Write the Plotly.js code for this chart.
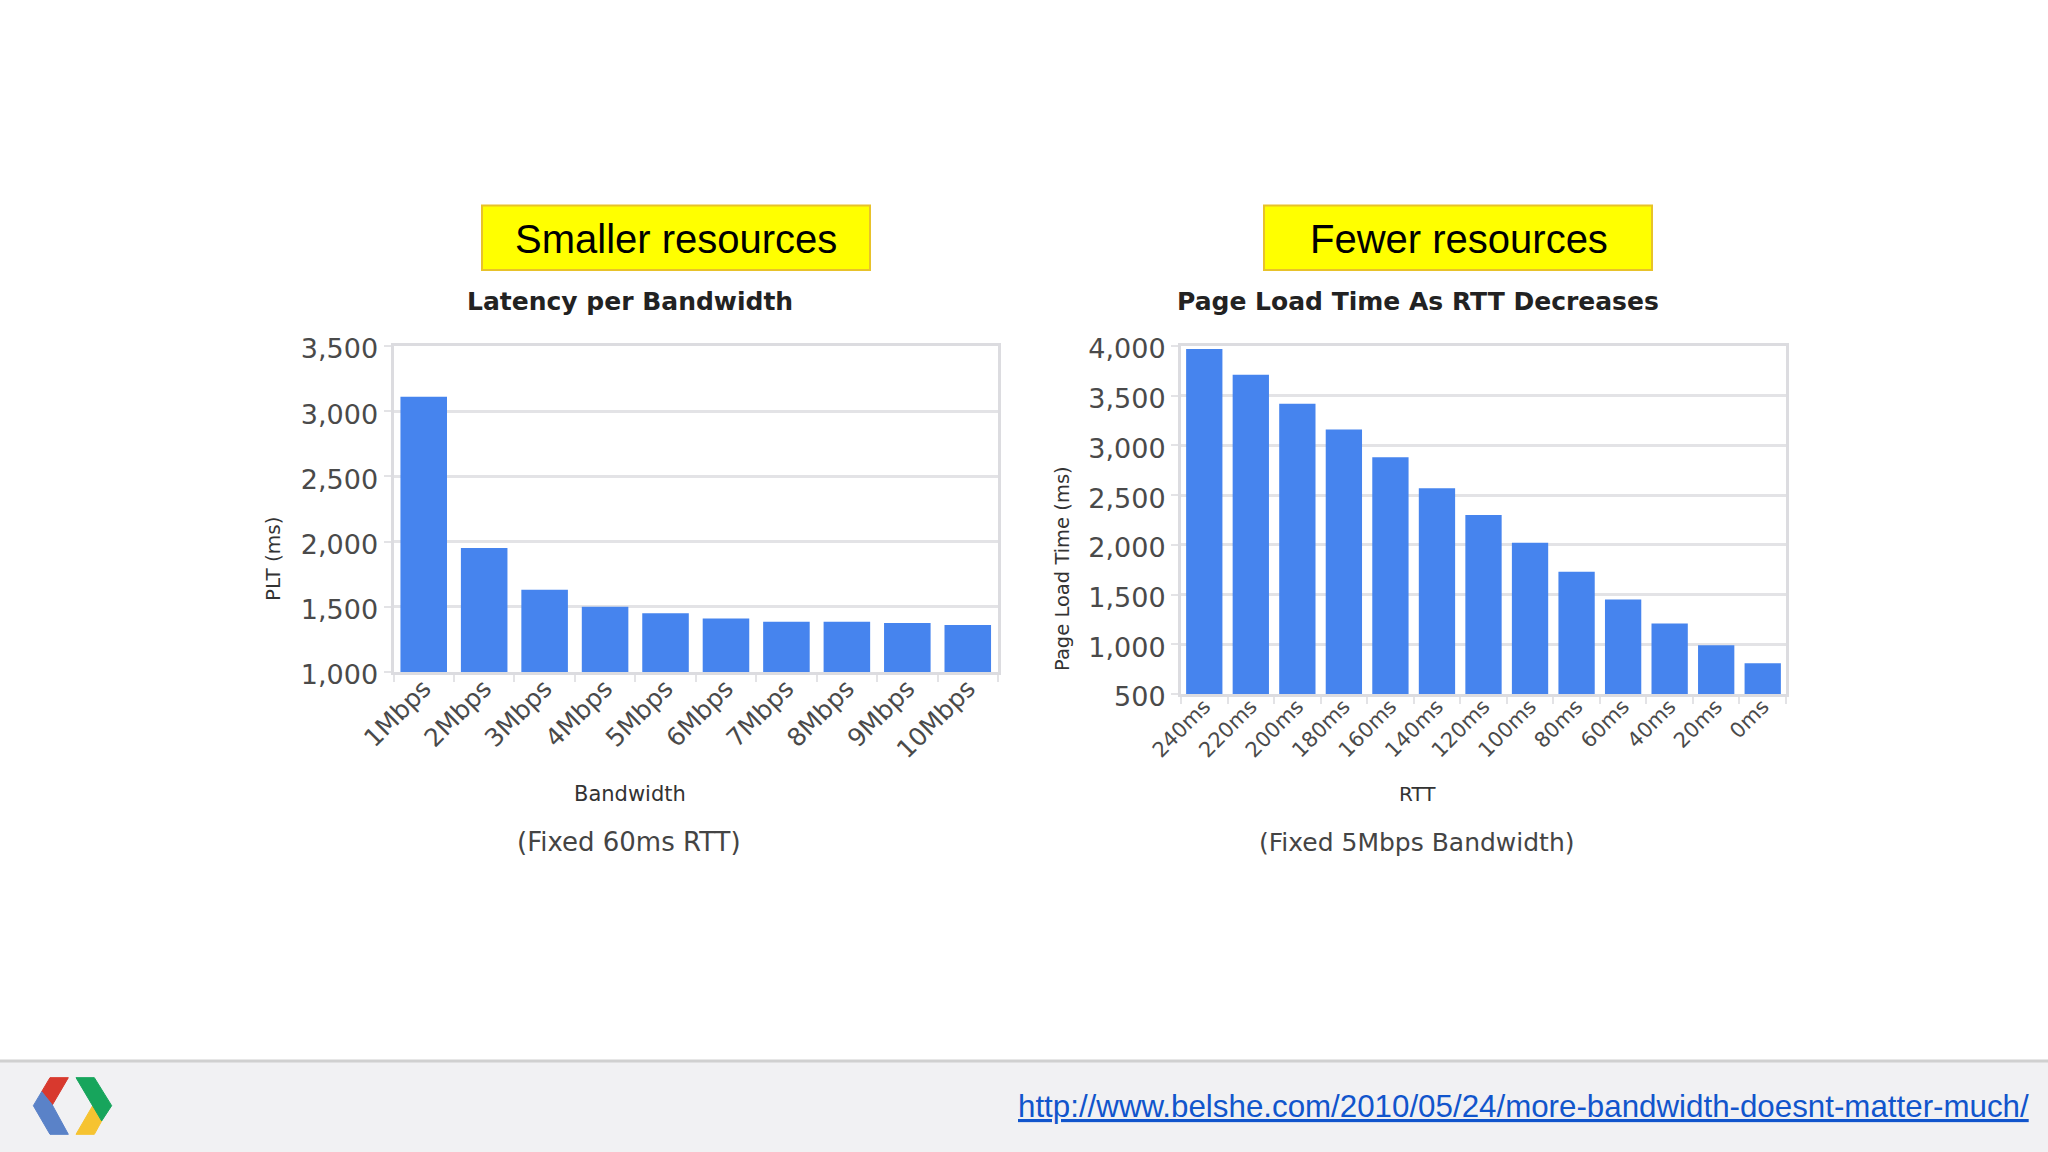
<!DOCTYPE html>
<html><head><meta charset="utf-8">
<script src="https://cdn.plot.ly/plotly-3.0.1.min.js"></script>
<style>html,body{margin:0;padding:0;background:#fff}#c{width:2048px;height:1152px}</style>
</head><body><div id="c"></div>
<script>
const bandwidthLabels=["1Mbps","2Mbps","3Mbps","4Mbps","5Mbps","6Mbps","7Mbps","8Mbps","9Mbps","10Mbps"];
const bandwidthPLT=[3110,1950,1630,1500,1450,1410,1385,1385,1375,1360];
const rttLabels=["240ms","220ms","200ms","180ms","160ms","140ms","120ms","100ms","80ms","60ms","40ms","20ms","0ms"];
const rttPLT=[3970,3710,3420,3160,2880,2570,2300,2020,1730,1450,1210,990,810];

const W=2048,H=1152;
const fx=p=>p/W, fy=p=>1-p/H;
const path=pts=>'M'+pts.map(p=>fx(p[0]).toFixed(5)+','+fy(p[1]).toFixed(5)).join('L')+'Z';
const z=(x,y)=>[x/3,1040+y/3];
const BLUE='#4684ee',GRID='#e3e3e6',DV='"DejaVu Sans",sans-serif',LS='"Liberation Sans",Arial,sans-serif';

const xa=(dom,anchor,size)=>({domain:dom,anchor,type:'category',tickangle:-45,tickson:'boundaries',ticks:'outside',ticklen:7,tickcolor:GRID,tickwidth:2,ticklabelstandoff:-11,
  showgrid:false,showline:true,linecolor:'#dcdce0',linewidth:3,mirror:true,zeroline:false,automargin:false,
  tickfont:{family:DV,size,color:'#4a4a4a'}});
const ya=(dom,anchor,range)=>({domain:dom,anchor,range,dtick:500,tickformat:',d',ticks:'outside',ticklen:7,tickcolor:GRID,tickwidth:2,ticklabelshift:3,
  showgrid:true,gridcolor:GRID,gridwidth:3,showline:true,linecolor:'#dcdce0',linewidth:3,mirror:true,zeroline:false,automargin:false,
  tickfont:{family:DV,size:27,color:'#4a4a4a'}});

const label=(text,x,y,size,family,color,textangle)=>({text,xref:'paper',yref:'paper',x:fx(x),y:fy(y),xanchor:'center',yanchor:'middle',showarrow:false,textangle:textangle||0,font:{size,family,color}});

const traces=[
 {type:'bar',x:bandwidthLabels,y:bandwidthPLT,xaxis:'x',yaxis:'y',marker:{color:BLUE},width:0.77,hoverinfo:'x+y'},
 {type:'bar',x:rttLabels,y:rttPLT,xaxis:'x2',yaxis:'y2',marker:{color:BLUE},width:0.78,hoverinfo:'x+y'}
];
const box=(x0,x1)=>({type:'rect',xref:'paper',yref:'paper',x0:fx(x0),x1:fx(x1),y0:fy(270),y1:fy(205.5),fillcolor:'#ffff00',line:{color:'#e8c22a',width:2},layer:'above'});
const shapeFill=(pts,c)=>({type:'path',xref:'paper',yref:'paper',path:path(pts),fillcolor:c,line:{color:c,width:1},layer:'above'});

const layout={width:W,height:H,margin:{l:0,r:0,t:0,b:0},paper_bgcolor:'#fff',plot_bgcolor:'#fff',showlegend:false,bargap:0.23,
 xaxis:xa([fx(393.5),fx(998)],'y',25),
 yaxis:ya([fy(672),fy(346)],'x',[1000,3500]),
 xaxis2:xa([fx(1181),fx(1786)],'y2',21),
 yaxis2:ya([fy(694),fy(346)],'x2',[500,4000]),
 shapes:[
  {type:'rect',xref:'paper',yref:'paper',x0:0,x1:1,y0:0,y1:fy(1061),fillcolor:'#f1f1f3',line:{width:0},layer:'below'},
  {type:'line',xref:'paper',yref:'paper',x0:0,x1:1,y0:fy(1061),y1:fy(1061),line:{color:'#d0d0d0',width:3},layer:'below'},
  box(482,870),box(1264,1652),
  shapeFill([z(150,113),z(205,113),z(157,195),z(125,155)],'#d8392e'),
  shapeFill([z(125,155),z(157,195),z(205,283),z(150,283),z(100,197)],'#5a82c8'),
  shapeFill([z(278,197),z(305,243),z(283,283),z(228,283)],'#f6c331'),
  shapeFill([z(228,113),z(283,113),z(335,197),z(305,243)],'#17a55c')
 ],
 annotations:[
  label('Smaller resources',675.5,239,40,LS,'#000'),
  label('Fewer resources',1458.5,239,40,LS,'#000'),
  label('<b>Latency per Bandwidth</b>',630,301.5,25,DV,'#222'),
  label('<b>Page Load Time As RTT Decreases</b>',1418,301.5,25,DV,'#222'),
  label('Bandwidth',630,794,21,DV,'#333'),
  label('RTT',1417,794,20,DV,'#333'),
  label('PLT (ms)',273,559,20,DV,'#333',-90),
  label('Page Load Time (ms)',1062,569,19.5,DV,'#333',-90),
  label('(Fixed 60ms RTT)',629,842,26,DV,'#444'),
  label('(Fixed 5Mbps Bandwidth)',1417,842,25,DV,'#444'),
  label('<u>http://www.belshe.com/2010/05/24/more-bandwidth-doesnt-matter-much/</u>',1523,1106,31.3,LS,'#1155cc')
 ]};
Plotly.newPlot('c',traces,layout,{displayModeBar:false,staticPlot:true});
</script></body></html>
